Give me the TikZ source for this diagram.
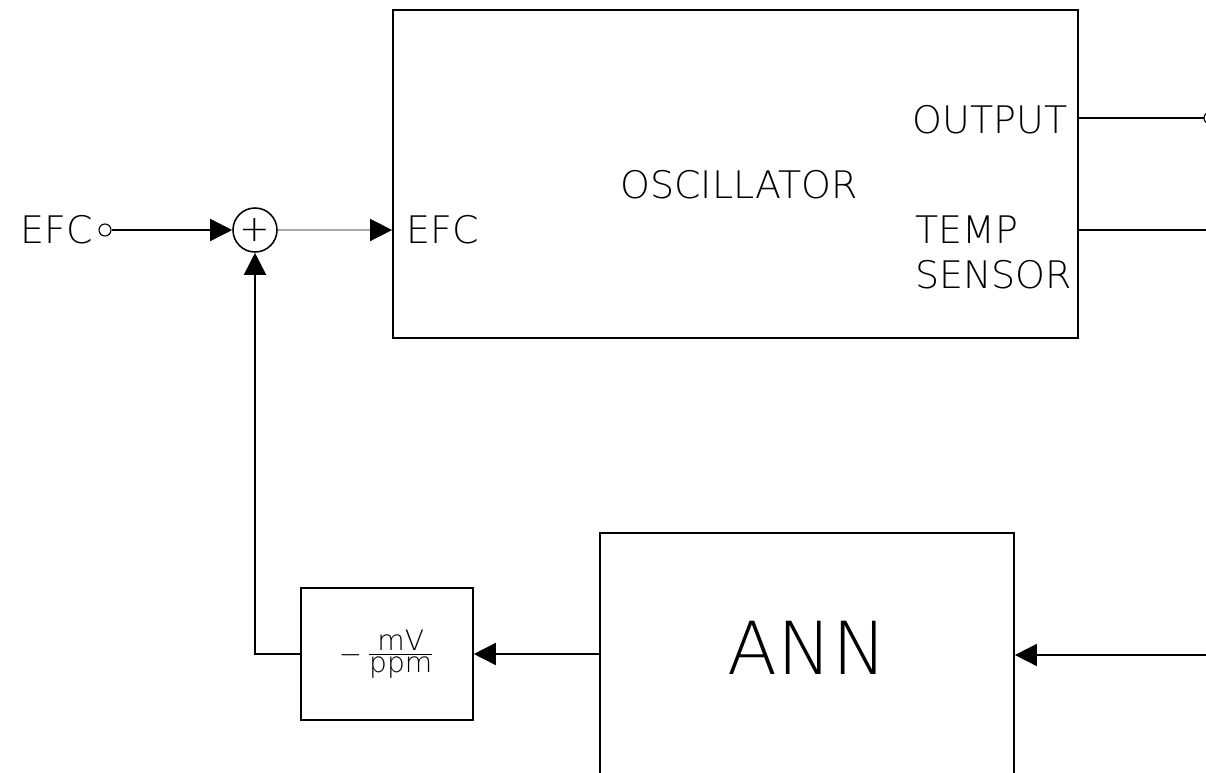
\documentclass[tikz,border=0pt]{standalone}
\usepackage{fontspec}
\setmainfont{DejaVu Sans ExtraLight}
\usetikzlibrary{arrows.meta}
\tikzset{
  block/.style={draw, line width=1.1pt, inner sep=0pt},
  wire/.style={line width=1.1pt},
  sig/.style={line width=1.1pt, -{Triangle[length=0.55cm,width=0.55cm,color=black]}},
  lbl/.style={inner sep=0pt, font=\fontsize{27}{32}\selectfont},
  port/.style={draw, circle, line width=0.8pt, fill=white, inner sep=0pt, minimum size=0.3cm},
}
\begin{document}
\begin{tikzpicture}[x=0.025cm,y=-0.025cm]
  \useasboundingbox (0,0) rectangle (1206,772);
  \clip (0,0) rectangle (1206,772);
  % oscillator block with its port labels
  \node[block, minimum width=17.125cm, minimum height=8.2cm] (osc) at (735.5,174) {};
  \node[lbl] (osctxt) at (739,185) {OSCILLATOR};
  \node[lbl] (oscefc) at (443,230) {EFC};
  \node[lbl, anchor=east] (outtxt) at (1068,120) {OUTPUT};
  \node[lbl, anchor=west, align=left] (temptxt) at (915,252) {TEMP\\SENSOR};
  % EFC input and summing junction
  \node[lbl, anchor=east] (efctxt) at (93,230) {EFC};
  \node[port] (efcin) at (105,230) {};
  \node[draw, circle, line width=1.1pt, inner sep=0pt, minimum size=1.1cm,
        font=\fontsize{26}{26}\selectfont] (sum) at (255,230) {+};
  \draw[sig] (efcin) -- (sum);
  \draw[sig, gray!70] (sum) -- (sum -| osc.west);
  % feedback path: gain and ANN blocks
  \node[block, minimum width=4.3cm, minimum height=3.3cm,
        font=\fontsize{20}{24}\selectfont] (gain) at (387,654) {$-\,\frac{\mbox{mV}}{\mbox{ppm}}$};
  \node[block, minimum width=10.35cm, minimum height=7.5cm] (ann) at (807,683) {};
  \node[inner sep=0pt, font=\fontsize{52}{60}\selectfont] (anntxt) at (807,648) {ANN};
  \draw[sig] (gain) -| (sum);
  \draw[sig] (gain -| ann.west) -- (gain.east);
  % signals leaving and entering at the right edge
  \coordinate (annin) at (1206,655);
  \coordinate (outp) at (1210,118);
  \coordinate (tempout) at (1206,230);
  \draw[sig] (annin) -- (annin -| ann.east);
  \draw[wire] (outp -| osc.east) -- (outp);
  \node[port] (outpin) at (outp) {};
  \draw[wire] (tempout -| osc.east) -- (tempout);
\end{tikzpicture}
\end{document}
